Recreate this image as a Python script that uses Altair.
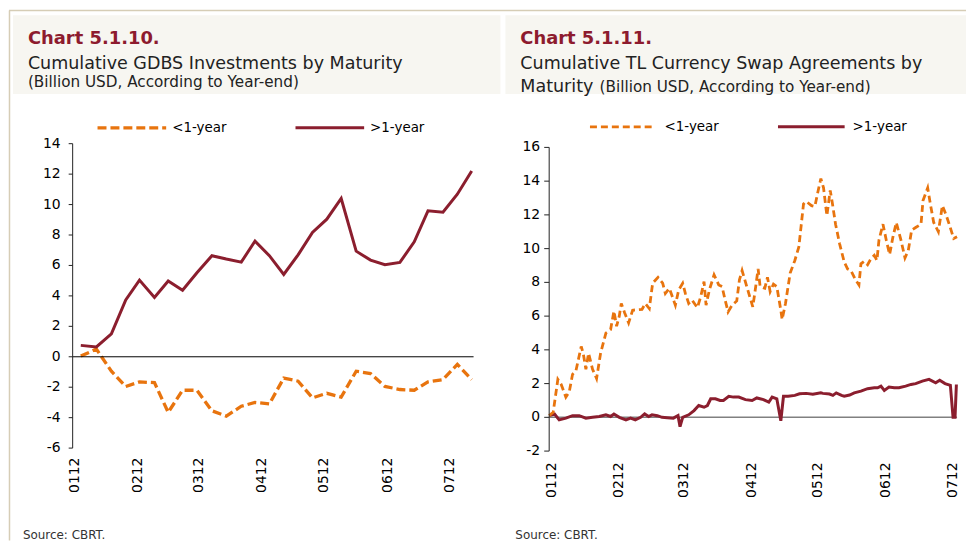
import altair as alt
import pandas as pd

# ---------------- data ----------------
tick_pos = [0.03, 1.04, 2.01, 3.03, 4.02, 5.04, 6.04]
tick_labels = ["0112", "0212", "0312", "0412", "0512", "0612", "0712"]

left_t = [0.13, 0.38, 0.62, 0.85, 1.07, 1.31, 1.53, 1.76, 1.99, 2.23, 2.46, 2.70, 2.92, 3.15,
          3.38, 3.61, 3.84, 4.07, 4.30, 4.54, 4.77, 5.00, 5.24, 5.47, 5.69, 5.93, 6.16, 6.39]
left_short = [0.05, 0.5, -0.95, -1.95, -1.65, -1.7, -3.65, -2.2, -2.2, -3.55, -3.9, -3.25, -3.0, -3.1,
              -1.4, -1.6, -2.7, -2.4, -2.65, -0.95, -1.1, -1.95, -2.15, -2.2, -1.65, -1.5, -0.5, -1.5]
left_long = [0.75, 0.65, 1.5, 3.73, 5.04, 3.9, 4.98, 4.37, 5.52, 6.64, 6.42, 6.22, 7.6, 6.64,
             5.41, 6.7, 8.17, 9.04, 10.4, 6.94, 6.35, 6.05, 6.2, 7.55, 9.59, 9.5, 10.68, 12.2]

r_short_t = [0.00, 0.06, 0.13, 0.18, 0.25, 0.30, 0.35, 0.40, 0.48, 0.51,
             0.55, 0.59, 0.65, 0.71, 0.77, 0.85, 0.92, 0.97, 1.01, 1.05,
             1.08, 1.13, 1.19, 1.25, 1.39, 1.44, 1.50, 1.55, 1.63, 1.70,
             1.74, 1.80, 1.89, 1.94, 2.00, 2.04, 2.09, 2.14, 2.22, 2.27,
             2.32, 2.35, 2.40, 2.47, 2.54, 2.59, 2.63, 2.68, 2.74, 2.81,
             2.85, 2.89, 2.96, 3.05, 3.08, 3.13, 3.16, 3.23, 3.27, 3.31,
             3.36, 3.41, 3.47, 3.49, 3.54, 3.61, 3.68, 3.74, 3.81, 3.85,
             3.93, 3.98, 4.03, 4.07, 4.11, 4.16, 4.21, 4.24, 4.29, 4.35,
             4.42, 4.47, 4.52, 4.59, 4.64, 4.67, 4.72, 4.77, 4.82, 4.87,
             4.91, 4.94, 5.00, 5.05, 5.10, 5.15, 5.20, 5.27, 5.33, 5.38,
             5.43, 5.49, 5.57, 5.60, 5.67, 5.71, 5.76, 5.83, 5.89, 5.95,
             6.00, 6.06, 6.11]
r_short_v = [0.1, 0.3, 2.25, 1.95, 1.2, 1.5, 2.55, 2.75, 4.2, 3.8,
             2.85, 3.8, 2.85, 2.3, 3.8, 5.0, 5.2, 6.3, 5.4, 6.0,
             6.75, 6.2, 5.6, 6.35, 6.4, 6.75, 6.45, 7.95, 8.3, 7.95,
             7.35, 7.65, 6.65, 7.55, 7.95, 7.35, 6.75, 6.95, 6.5, 7.15,
             8.05, 6.65, 7.55, 8.45, 7.85, 7.75, 7.05, 6.25, 6.65, 6.9,
             8.15, 8.7, 7.75, 6.55, 7.35, 8.8, 7.75, 7.65, 8.3, 7.45,
             7.9, 7.75, 6.35, 5.8, 6.75, 8.55, 9.3, 10.1, 12.65, 12.8,
             12.55, 12.5, 13.45, 14.15, 13.6, 11.95, 13.45, 12.75, 11.45, 10.3,
             9.2, 8.8, 8.7, 8.15, 7.85, 9.1, 9.25, 9.05, 9.4, 9.6,
             9.3, 10.5, 11.45, 10.5, 9.65, 10.7, 11.55, 10.5, 9.45, 9.9,
             11.1, 11.25, 11.45, 12.85, 13.6, 12.65, 11.55, 11.0, 12.55, 11.95,
             11.35, 10.6, 10.7]

r_long_t = [0.00, 0.08, 0.15, 0.25, 0.35, 0.45, 0.55, 0.65, 0.75, 0.85,
            0.92, 0.97, 1.05, 1.15, 1.22, 1.29, 1.37, 1.43, 1.49, 1.54,
            1.62, 1.69, 1.77, 1.86, 1.93, 1.96, 2.00, 2.09, 2.17, 2.24,
            2.32, 2.37, 2.42, 2.49, 2.56, 2.61, 2.69, 2.76, 2.84, 2.94,
            3.04, 3.11, 3.21, 3.29, 3.34, 3.41, 3.47, 3.51, 3.58, 3.68,
            3.75, 3.85, 3.95, 4.07, 4.10, 4.20, 4.25, 4.30, 4.38, 4.42,
            4.50, 4.57, 4.67, 4.77, 4.87, 4.92, 4.97, 5.02, 5.09, 5.17,
            5.24, 5.34, 5.42, 5.49, 5.59, 5.69, 5.79, 5.85, 5.93, 6.01,
            6.05, 6.08, 6.10]
r_long_v = [0.1, 0.2, -0.15, -0.05, 0.1, 0.1, -0.05, 0.0, 0.05, 0.15,
            0.05, 0.2, 0.0, -0.15, -0.05, -0.15, 0.0, 0.2, 0.05, 0.15,
            0.1, 0.0, -0.02, -0.05, 0.1, -0.55, 0.0, 0.15, 0.4, 0.7,
            0.6, 0.7, 1.1, 1.1, 1.0, 1.0, 1.25, 1.2, 1.2, 1.05,
            1.0, 1.15, 1.05, 0.9, 1.2, 1.1, -0.2, 1.25, 1.25, 1.3,
            1.4, 1.42, 1.37, 1.45, 1.42, 1.38, 1.3, 1.45, 1.3, 1.25,
            1.32, 1.45, 1.55, 1.7, 1.75, 1.75, 1.85, 1.6, 1.8, 1.75,
            1.75, 1.85, 1.95, 2.0, 2.15, 2.25, 2.05, 2.2, 2.0, 1.9,
            0.0, 0.0, 1.95]

left_yticks = [-6, -4, -2, 0, 2, 4, 6, 8, 10, 12, 14]
right_yticks = [-2, 0, 2, 4, 6, 8, 10, 12, 14, 16]

# ---------------- styles ----------------
ORANGE = "#E8740E"
DARKRED = "#8B1E2E"
TITLERED = "#8D1B2E"
BEIGE = "#F7F6F1"
TAN = "#D6CDB6"
TITLE_FONT = "DejaVu Sans"
AX_FONT = "DejaVu Sans"

one = pd.DataFrame({"k": [0]})
label_expr = "[" + ",".join("'%s'" % s for s in tick_labels) + "][round(datum.value)]"


def rect(x, x2, y, y2, color):
    return alt.Chart(one).mark_rect(color=color).encode(
        x=alt.value(x), x2=alt.value(x2), y=alt.value(y), y2=alt.value(y2))


def hline(x, x2, y, color, width, dash=None):
    kw = dict(color=color, strokeWidth=width)
    if dash:
        kw["strokeDash"] = dash
    return alt.Chart(one).mark_rule(**kw).encode(
        x=alt.value(x), x2=alt.value(x2), y=alt.value(y))


def vline(x, y, y2, color, width):
    return alt.Chart(one).mark_rule(color=color, strokeWidth=width).encode(
        x=alt.value(x), y=alt.value(y), y2=alt.value(y2))


def text(x, y, s, size, color="#222222", font=TITLE_FONT, weight="normal", baseline="alphabetic"):
    return alt.Chart(one).mark_text(text=s, align="left", baseline=baseline, fontSize=size,
                                    font=font, color=color, fontWeight=weight).encode(
        x=alt.value(x), y=alt.value(y))


def xenc(domain, pad):
    return alt.X("t:Q", scale=alt.Scale(domain=domain, nice=False, zero=False),
                 axis=alt.Axis(values=tick_pos, labelExpr=label_expr, labelAngle=-90,
                               ticks=False, domain=False, grid=False, title=None,
                               labelPadding=pad, labelFont=AX_FONT, labelFontSize=14,
                               labelColor="#000000", labelOverlap=False, zindex=2))


def yscale(domain):
    return alt.Y("v:Q", scale=alt.Scale(domain=domain, nice=False, zero=False), axis=None)


def yaxis(ticks, top, bottom, label_x, tick_len, color):
    df = pd.DataFrame({"v": ticks, "lab": [str(t) for t in ticks]})
    line = alt.Chart(one).mark_rule(color=color, strokeWidth=1).encode(
        x=alt.value(0), y=alt.YDatum(top, axis=None), y2=alt.datum(bottom))
    tk = alt.Chart(df).mark_rule(color=color, strokeWidth=1).encode(
        y=alt.Y("v:Q", axis=None), x=alt.value(-tick_len), x2=alt.value(0))
    lb = alt.Chart(df).mark_text(align="right", baseline="middle", font=AX_FONT,
                                 fontSize=14, color="#000000").encode(
        y=alt.Y("v:Q", axis=None), x=alt.value(label_x), text="lab:N")
    return [line, tk, lb]


# ---------------- left panel ----------------
LW, LH = 403, 306
ldom_x = [0, 6.42]
ldom_y = [-6, 14]

df_ls = pd.DataFrame({"t": left_t, "v": left_short})
df_ll = pd.DataFrame({"t": left_t, "v": left_long})

l_zero = alt.Chart(one).mark_rule(color="#000000", strokeWidth=1).encode(
    y=alt.YDatum(0, axis=None), x=alt.value(0), x2=alt.value(LW))
l_short = alt.Chart(df_ls).mark_line(color=ORANGE, strokeWidth=3.3, strokeDash=[9, 4]).encode(
    x=xenc(ldom_x, 9), y=yscale(ldom_y))
l_long = alt.Chart(df_ll).mark_line(color=DARKRED, strokeWidth=3).encode(
    x="t:Q", y=alt.Y("v:Q", axis=None))

left = alt.layer(
    rect(-64, 898, -135, 399, "#FFFFFF"),
    hline(-64, 898, -134, TAN, 1.5),
    vline(-63.5, -134, 399, TAN, 1.5),
    rect(-60, 430, -129, -50, BEIGE),
    text(-45, -100, "Chart 5.1.10.", 18, TITLERED, weight="bold"),
    text(-45, -75, "Cumulative GDBS Investments by Maturity", 17.6),
    text(-45, -57, "(Billion USD, According to Year-end)", 15.3),
    hline(25, 94, -16, ORANGE, 3.3, [9, 4]),
    text(100, -16, "<1-year", 13.5, "#000000", AX_FONT, baseline="middle"),
    hline(224, 293, -16, DARKRED, 3),
    text(299, -16, ">1-year", 13.5, "#000000", AX_FONT, baseline="middle"),
    text(-50, 397.5, "Source: CBRT.", 12, "#333333"),
    l_short, l_long, l_zero,
    *yaxis(left_yticks, 14, -6, -12, 4, "#222222"),
).properties(width=LW, height=LH)

# ---------------- right panel ----------------
RW, RH = 410, 309
rdom_x = [0, 6.11]
rdom_y = [-2, 16.22]

df_rs = pd.DataFrame({"t": r_short_t, "v": r_short_v})
df_rl = pd.DataFrame({"t": r_long_t, "v": r_long_v})

r_zero = alt.Chart(one).mark_rule(color="#808080", strokeWidth=1.5).encode(
    y=alt.YDatum(0, axis=None), x=alt.value(0), x2=alt.value(RW))
r_short = alt.Chart(df_rs).mark_line(color=ORANGE, strokeWidth=2.8, strokeDash=[7, 4]).encode(
    x=xenc(rdom_x, 11), y=yscale(rdom_y))
r_long = alt.Chart(df_rl).mark_line(color=DARKRED, strokeWidth=3).encode(
    x="t:Q", y=alt.Y("v:Q", axis=None))

right = alt.layer(
    rect(-44, 419, -129, -50, BEIGE),
    text(-29, -100, "Chart 5.1.11.", 18, TITLERED, weight="bold"),
    text(-29, -75, "Cumulative TL Currency Swap Agreements by", 17.6),
    text(-29, -52, "Maturity", 17.6),
    text(50.7, -52, "(Billion USD,  According to Year-end)", 15.3),
    hline(41, 107, -17, ORANGE, 2.8, [7, 4]),
    text(116, -17, "<1-year", 13.5, "#000000", AX_FONT, baseline="middle"),
    hline(230, 297, -17, DARKRED, 3),
    text(305, -17, ">1-year", 13.5, "#000000", AX_FONT, baseline="middle"),
    text(-34, 397.5, "Source: CBRT.", 12, "#333333"),
    r_zero, r_long, r_short,
    *yaxis(right_yticks, 16, -2, -9, 5, "#222222"),
).properties(width=RW, height=RH)

chart = alt.hconcat(left, right, spacing=76, bounds="flush").configure_view(
    stroke=None).properties(padding=0, background="white")

chart.save("out.html", embed_options={"renderer": "svg", "actions": False})
